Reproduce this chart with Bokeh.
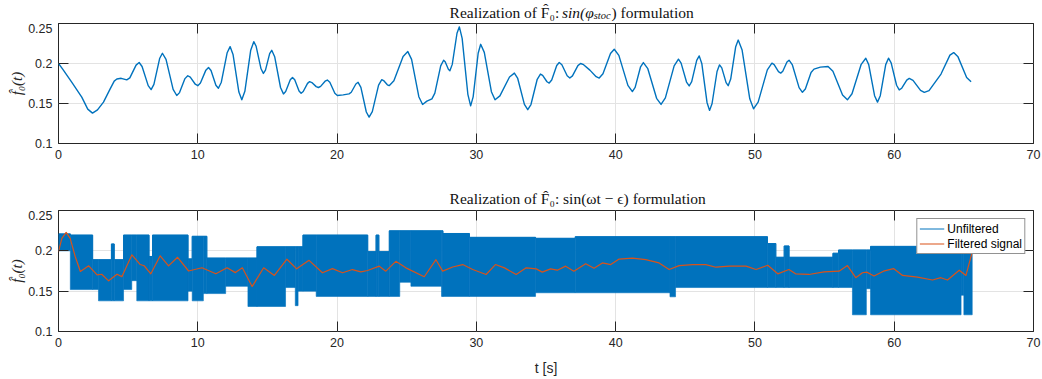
from bokeh.plotting import figure
from bokeh.layouts import column
from bokeh.models import (Range1d, FixedTicker, NumeralTickFormatter, LinearAxis,
                          Label, Legend, LegendItem)
from bokeh.embed import file_html
from bokeh.resources import INLINE

# ---------------- data ----------------
x_ticks = [0, 10, 20, 30, 40, 50, 60, 70]
y_ticks = [0.1, 0.15, 0.2, 0.25]

# top panel: realization with sin(phi_stoc) formulation
top_t = [0.0, 0.3, 0.96, 1.67, 2.1, 2.44, 2.8, 3.23, 3.7, 4.0, 4.19, 4.5, 4.9, 5.12, 5.57,
         5.79, 6.0, 6.44, 6.65, 6.85, 7.26, 7.46, 7.72, 8.23, 8.49, 8.69, 9.08, 9.28,
         9.46, 9.82, 10.0, 10.19, 10.58, 10.77, 10.95, 11.3, 11.48, 11.69, 12.11, 12.32,
         12.53, 12.95, 13.16, 13.38, 13.8, 14.02, 14.19, 14.54, 14.71, 14.86, 15.16,
         15.31, 15.52, 15.94, 16.15, 16.31, 16.64, 16.8, 16.96, 17.27, 17.42, 17.57,
         17.88, 18.03, 18.19, 18.5, 18.66, 18.82, 19.14, 19.3, 19.48, 19.84, 20.02,
         20.44, 20.86, 21.02, 21.35, 21.51, 21.71, 22.1, 22.3, 22.53, 22.98, 23.21,
         23.34, 23.61, 23.74, 24.08, 24.74, 25.08, 25.35, 25.87, 26.14, 26.45, 26.81,
         27.02, 27.44, 27.65, 27.76, 27.99, 28.1, 28.27, 28.61, 28.78, 28.98, 29.39,
         29.59, 29.77, 30.13, 30.31, 30.57, 31.08, 31.34, 31.69, 32.38, 32.73, 32.97,
         33.45, 33.69, 33.92, 34.37, 34.6, 34.76, 35.07, 35.23, 35.41, 35.77, 35.95,
         36.14, 36.52, 36.71, 36.9, 37.29, 37.48, 37.7, 38.15, 38.6, 38.82, 39.09, 39.63,
         39.9, 40.23, 40.88, 41.2, 41.4, 41.79, 41.99, 42.31, 42.94, 43.26, 43.57, 44.2,
         44.51, 44.7, 45.09, 45.28, 45.46, 45.82, 46.0, 46.19, 46.56, 46.74, 46.92,
         47.28, 47.46, 47.62, 47.93, 48.08, 48.26, 48.62, 48.8, 49.08, 49.63, 49.9,
         50.23, 50.89, 51.22, 51.38, 51.69, 51.85, 52.0, 52.3, 52.45, 52.69, 53.17,
         53.41, 53.62, 54.03, 54.24, 54.7, 55.25, 55.6, 56.29, 56.64, 56.97, 57.63,
         57.96, 58.17, 58.59, 58.8, 59.0, 59.39, 59.59, 59.78, 60.17, 60.36, 60.54,
         60.9, 61.08, 61.35, 61.89, 62.16, 62.5, 63.36, 64.0, 64.27, 64.58, 65.2, 65.52]
top_f = [0.200, 0.193, 0.1765, 0.158, 0.143, 0.138, 0.142, 0.1517, 0.168, 0.178, 0.1806,
         0.1815, 0.1795, 0.182, 0.198, 0.2012, 0.1963, 0.1723, 0.1674, 0.174, 0.2062,
         0.2128, 0.2051, 0.1677, 0.160, 0.1636, 0.1811, 0.1847, 0.1829, 0.1741, 0.1723,
         0.1756, 0.1917, 0.195, 0.1912, 0.1728, 0.169, 0.1766, 0.2135, 0.2211, 0.2114,
         0.1643, 0.1546, 0.1652, 0.2167, 0.2273, 0.2215, 0.1934, 0.1876, 0.1918, 0.2123,
         0.2165, 0.2085, 0.170, 0.162, 0.165, 0.1796, 0.1826, 0.1797, 0.1657, 0.1628,
         0.165, 0.1752, 0.1773, 0.1762, 0.1711, 0.170, 0.1714, 0.1779, 0.1793, 0.1765,
         0.1628, 0.160, 0.1608, 0.162, 0.1641, 0.1744, 0.1765, 0.1701, 0.1394, 0.133,
         0.1398, 0.173, 0.1798, 0.1787, 0.1734, 0.1723, 0.1785, 0.2087, 0.2149, 0.2052,
         0.1585, 0.1488, 0.153, 0.1558, 0.1629, 0.197, 0.2041, 0.2022, 0.1928, 0.1909,
         0.1989, 0.2378, 0.2458, 0.2314, 0.1615, 0.1471, 0.1583, 0.2128, 0.224, 0.2139,
         0.1647, 0.1546, 0.1595, 0.1831, 0.188, 0.1813, 0.1489, 0.1422, 0.1487, 0.1803,
         0.1868, 0.1852, 0.1772, 0.1756, 0.1793, 0.1975, 0.2012, 0.1984, 0.1846, 0.1818,
         0.1845, 0.1973, 0.200, 0.1985, 0.1917, 0.1835, 0.1818, 0.1871, 0.2125, 0.2178,
         0.2101, 0.1726, 0.1649, 0.1702, 0.1959, 0.2012, 0.1935, 0.1565, 0.1488, 0.1571,
         0.1971, 0.2054, 0.2005, 0.1768, 0.1719, 0.1774, 0.204, 0.2095, 0.1996, 0.1513,
         0.1414, 0.1497, 0.19, 0.1983, 0.1945, 0.1761, 0.1723, 0.1806, 0.221, 0.2293,
         0.2168, 0.1559, 0.1434, 0.1517, 0.1921, 0.2004, 0.1986, 0.1898, 0.188, 0.1903,
         0.2018, 0.2041, 0.1982, 0.1699, 0.164, 0.1682, 0.1888, 0.193, 0.1955, 0.1963,
         0.1902, 0.1607, 0.1546, 0.1622, 0.199, 0.2066, 0.1986, 0.1597, 0.1517, 0.1597,
         0.1986, 0.2066, 0.2008, 0.1728, 0.167, 0.1691, 0.1793, 0.1814, 0.1789, 0.1665,
         0.164, 0.166, 0.1868, 0.2105, 0.2136, 0.2083, 0.1826, 0.1773]

# bottom panel: unfiltered signal envelope (segments between edges)
band_edges = [0.0, 0.85, 2.45, 2.87, 3.8, 4.0, 4.67, 5.26, 5.62, 6.5, 6.75, 9.3, 9.6,
              10.4, 10.65, 12.0, 13.6, 14.25, 16.3, 17.0, 17.2, 17.55, 18.5, 22.2,
              22.8, 23.0, 23.75, 24.5, 25.3, 27.5, 27.6, 29.5, 34.25, 37.1, 43.9, 44.3,
              50.9, 51.5, 52.1, 52.45, 55.6, 56.0, 57.0, 58.0, 58.3, 64.8, 65.0, 65.6]
band_hi = [0.221, 0.2195, 0.189, 0.189, 0.2085, 0.189, 0.2195, 0.2195, 0.2195, 0.193,
           0.2195, 0.190, 0.218, 0.218, 0.191, 0.191, 0.191, 0.205, 0.205, 0.205,
           0.205, 0.2195, 0.2195, 0.199, 0.2195, 0.199, 0.2248, 0.2248, 0.2248, 0.2248,
           0.2215, 0.2167, 0.2155, 0.2175, 0.2175, 0.2175, 0.209, 0.192, 0.206, 0.192,
           0.197, 0.201, 0.201, 0.201, 0.2055, 0.2055, 0.2055]
band_lo = [0.200, 0.152, 0.152, 0.138, 0.138, 0.138, 0.152, 0.163, 0.138, 0.138,
           0.138, 0.150, 0.138, 0.147, 0.147, 0.156, 0.131, 0.131, 0.1545, 0.132,
           0.150, 0.150, 0.1435, 0.1435, 0.1435, 0.1435, 0.1435, 0.161, 0.156, 0.1435,
           0.1435, 0.1435, 0.148, 0.148, 0.143, 0.1545, 0.1545, 0.1545, 0.1545, 0.1545,
           0.1545, 0.1545, 0.1207, 0.153, 0.1207, 0.145, 0.1207]

# bottom panel: filtered signal
filt_t = [0.0, 0.24, 0.55, 0.84, 1.2, 1.57, 2.17, 2.77, 3.1, 3.6, 4.2, 4.55, 5.27, 5.87,
          6.15, 6.63, 7.3, 7.9, 8.55, 9.34, 10.3, 11.3, 12.1, 12.7, 13.2, 13.9, 14.73,
          15.5, 16.4, 17.1, 17.99, 18.95, 19.67, 20.39, 21.1, 21.71, 22.19, 23.03, 23.5,
          24.22, 24.94, 26.26, 27.1, 27.58, 28.3, 29.02, 29.74, 30.7, 31.37, 32.02,
          32.86, 33.58, 34.3, 34.73, 35.33, 35.81, 36.41, 37.0, 37.85, 38.45, 39.05,
          39.65, 40.25, 41.2, 42.16, 43.12, 43.84, 44.56, 45.52, 46.48, 47.2, 48.16,
          49.36, 50.08, 50.92, 51.64, 52.44, 52.92, 53.88, 54.96, 56.04, 56.64, 57.24,
          57.72, 58.03, 58.55, 59.23, 59.95, 60.6, 61.67, 62.75, 63.35, 63.83, 64.67,
          65.15, 65.58]
filt_f = [0.199, 0.2154, 0.2228, 0.2154, 0.193, 0.1744, 0.1814, 0.1703, 0.171, 0.1628,
          0.171, 0.168, 0.195, 0.183, 0.1815, 0.1715, 0.1938, 0.1814, 0.192, 0.175,
          0.179, 0.1715, 0.179, 0.173, 0.179, 0.1557, 0.179, 0.1695, 0.1896, 0.1777,
          0.1882, 0.1728, 0.178, 0.1728, 0.1768, 0.174, 0.1756, 0.181, 0.1748, 0.187,
          0.1789, 0.1679, 0.189, 0.1748, 0.18, 0.183, 0.1768, 0.1707, 0.183, 0.1789,
          0.1707, 0.1789, 0.1776, 0.1736, 0.1776, 0.176, 0.181, 0.1748, 0.1841, 0.1785,
          0.185, 0.183, 0.1898, 0.191, 0.189, 0.185, 0.1768, 0.1817, 0.183, 0.183,
          0.1797, 0.181, 0.181, 0.1768, 0.1821, 0.1715, 0.1768, 0.1715, 0.1707, 0.174,
          0.1748, 0.1817, 0.1667, 0.1728, 0.1736, 0.1687, 0.1748, 0.178, 0.1695, 0.1675,
          0.1638, 0.1667, 0.1638, 0.176, 0.1695, 0.1972]

# ---------------- style ----------------
BLUE = "#0072BD"
ORANGE = "#D95319"
AX = "#262626"
GRID = "#e3e3e3"
TXT = "#111111"
TICK_FONT = "Liberation Sans"
SERIF = "Liberation Serif"
W = 1042


def make_strip(height):
    s = figure(width=W, height=height, x_range=Range1d(0, W), y_range=Range1d(0, height),
               x_axis_location=None, y_axis_location=None, title_location=None,
               output_backend="svg", toolbar_location=None,
               min_border=0, min_border_left=0, min_border_right=0,
               min_border_top=0, min_border_bottom=0)
    s.outline_line_color = None
    s.grid.visible = False
    s.background_fill_color = "white"
    s.border_fill_color = "white"
    return s


def title_piece(x, y, text, size="15.5px", style="normal"):
    return Label(x=x, y=y, text=text, text_align="left", text_baseline="alphabetic",
                 text_font=SERIF, text_font_style=style, text_font_size=size,
                 text_color=TXT)


def make_fig(height, border_top, border_bottom):
    p = figure(width=W, height=height, x_range=Range1d(0, 70), y_range=Range1d(0.1, 0.25),
               output_backend="svg", toolbar_location=None, title_location=None,
               min_border_left=58, min_border_right=9,
               min_border_top=border_top, min_border_bottom=border_bottom)
    p.background_fill_color = "white"
    p.border_fill_color = "white"
    p.outline_line_color = AX
    p.outline_line_width = 1
    xb = p.below[0]
    yl = p.left[0]
    xb.ticker = FixedTicker(ticks=x_ticks)
    yl.ticker = FixedTicker(ticks=y_ticks)
    yl.formatter = NumeralTickFormatter(format="0.[00]")
    for ax in [xb, yl]:
        ax.axis_line_color = None
        ax.major_tick_in = 10
        ax.major_tick_out = 0
        ax.major_tick_line_color = AX
        ax.minor_tick_line_color = None
        ax.major_label_text_font = TICK_FONT
        ax.major_label_text_font_size = "12.5px"
        ax.major_label_text_color = AX
        ax.major_label_standoff = 6
    top_ax = LinearAxis(ticker=FixedTicker(ticks=x_ticks),
                        major_label_overrides={t: "" for t in x_ticks},
                        axis_line_color=None, major_tick_in=10, major_tick_out=0,
                        major_tick_line_color=AX, minor_tick_line_color=None,
                        major_label_standoff=0)
    right_ax = LinearAxis(ticker=FixedTicker(ticks=y_ticks),
                          major_label_overrides={t: "" for t in y_ticks},
                          axis_line_color=None, major_tick_in=10, major_tick_out=0,
                          major_tick_line_color=AX, minor_tick_line_color=None,
                          major_label_standoff=0)
    p.add_layout(top_ax, "above")
    p.add_layout(right_ax, "right")
    p.xgrid.ticker = FixedTicker(ticks=x_ticks)
    p.ygrid.ticker = FixedTicker(ticks=y_ticks)
    p.xgrid.grid_line_color = GRID
    p.ygrid.grid_line_color = GRID
    yl.axis_label = "f\u0302\u2080(t)"
    yl.axis_label_text_font = SERIF
    yl.axis_label_text_font_style = "italic"
    yl.axis_label_text_font_size = "15px"
    yl.axis_label_text_color = AX
    yl.axis_label_standoff = 0
    return p, xb


# ---------------- top title strip (pixels 0..23) ----------------
s1 = make_strip(23)
s1.add_layout(title_piece(418, 11.5, "Realization of F\u0302\u2080:"))
s1.add_layout(title_piece(538, 11.5, "sin(\u03c6", style="italic"))
s1.add_layout(title_piece(572, 8.5, "stoc", size="10.5px", style="italic"))
s1.add_layout(title_piece(591, 11.5, ") formulation"))

# ---------------- top figure ----------------
p1, xb1 = make_fig(162, 0, 42)
p1.line(top_t, top_f, line_color=BLUE, line_width=1.4, line_join="round")

# ---------------- bottom title strip (pixels 185..210) ----------------
s2 = make_strip(25)
s2.add_layout(title_piece(418, 12.3,
                          "Realization of F\u0302\u2080: sin(\u03c9t \u2212 \u03f5) formulation"))

# ---------------- bottom figure ----------------
p2, xb2 = make_fig(169, 0, 48)
p2.quad(left=band_edges[:-1], right=band_edges[1:], top=band_hi, bottom=band_lo,
        fill_color=BLUE, line_color=BLUE, line_width=0.6)
unf = p2.step(x=band_edges, y=band_hi + [band_hi[-1]], mode="after",
              line_color=BLUE, line_width=1)
filt = p2.line(filt_t, filt_f, line_color=ORANGE, line_width=1.2, line_join="round")

xb2.axis_label = "t [s]"
xb2.axis_label_text_font = TICK_FONT
xb2.axis_label_text_font_style = "normal"
xb2.axis_label_text_font_size = "14px"
xb2.axis_label_text_color = AX
xb2.axis_label_standoff = 10

legend = Legend(items=[LegendItem(label="Unfiltered", renderers=[unf]),
                       LegendItem(label="Filtered signal", renderers=[filt])],
                location="top_right")
legend.label_text_font = TICK_FONT
legend.label_text_font_size = "12px"
legend.label_text_color = "#000000"
legend.border_line_color = AX
legend.border_line_width = 1
legend.background_fill_alpha = 1.0
legend.background_fill_color = "white"
legend.padding = 2
legend.spacing = 0
legend.margin = 8
legend.glyph_width = 25
legend.glyph_height = 15
legend.label_height = 15
legend.label_standoff = 3
p2.add_layout(legend)

layout = column(s1, p1, s2, p2, spacing=0)
open("out.html", "w").write(file_html(layout, INLINE))
